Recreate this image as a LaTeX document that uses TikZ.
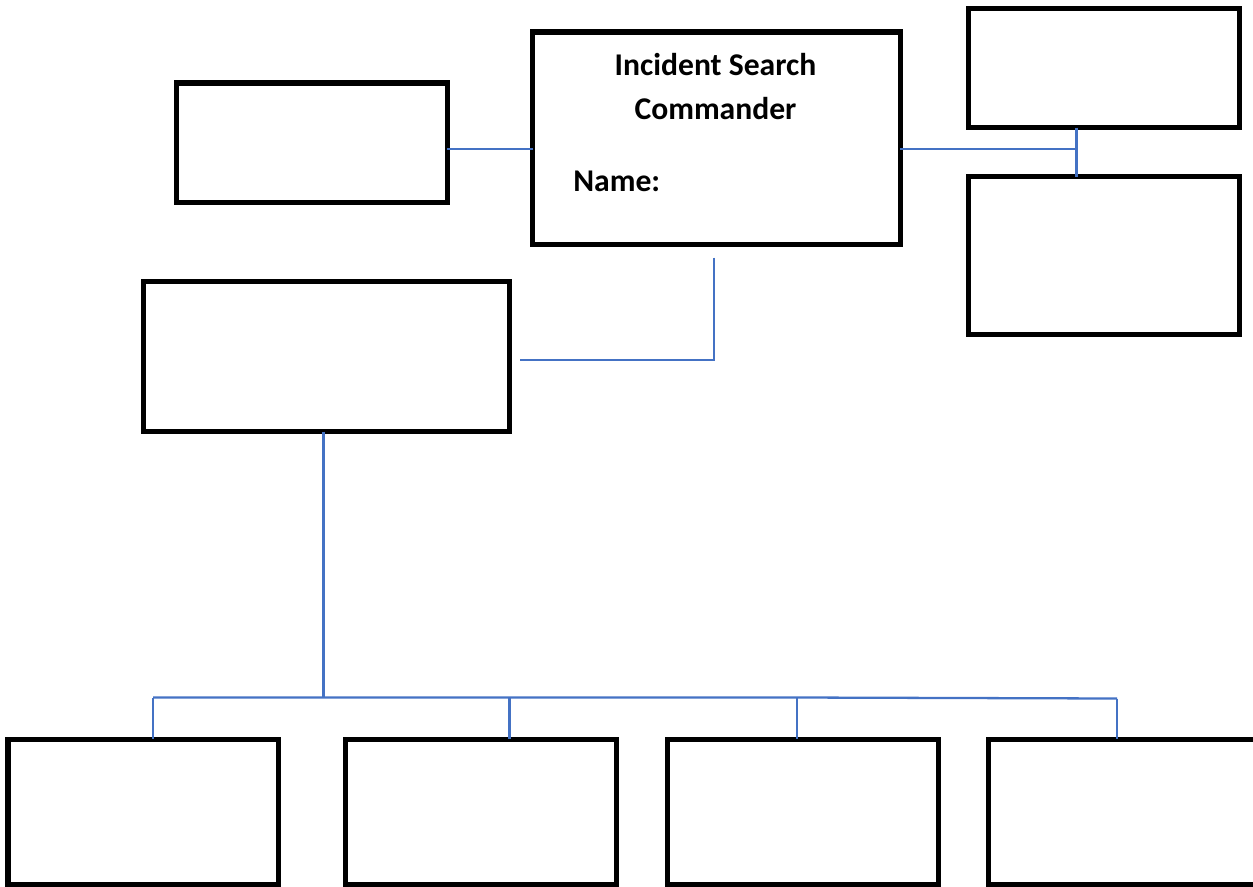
\documentclass[tikz,border=0pt]{standalone}
\usepackage{fontspec}
\setmainfont{Carlito}
\definecolor{linkblue}{HTML}{4472C4}
\begin{document}
\begin{tikzpicture}[
  box/.style={draw, rectangle, line width=2.85pt, outer sep=0pt, inner sep=0pt},
  link/.style={draw=linkblue, line width=1.3pt},
  label/.style={font=\fontsize{18}{22}\selectfont\bfseries, inner sep=0pt}]
\useasboundingbox (0,0) rectangle (25.06,-17.72);

% Commander box
\node[box, minimum width=7.35cm, minimum height=4.24cm] (isc) at (14.325,-2.76) {};
\node[label, anchor=base] (isct1) at (14.31,-1.5) {Incident Search};
\node[label, anchor=base] (isct2) at (14.31,-2.386) {Commander};
\node[label, anchor=base west] (iscname) at (11.46,-3.82) {Name:};

% Side boxes
\node[box, minimum width=5.41cm, minimum height=2.38cm] (lbox) at (6.235,-2.85) {};
\node[box, minimum width=5.41cm, minimum height=2.38cm] (trbox) at (22.075,-1.36) {};
\node[box, minimum width=5.41cm, minimum height=3.15cm] (rbox) at (22.075,-5.105) {};

% Section box
\node[box, minimum width=7.31cm, minimum height=3cm] (bbox) at (6.525,-7.13) {};

% Bottom boxes
\node[box, minimum width=5.41cm, minimum height=2.9cm] (b1) at (2.865,-16.23) {};
\node[box, minimum width=5.42cm, minimum height=2.9cm] (b2) at (9.61,-16.23) {};
\node[box, minimum width=5.42cm, minimum height=2.9cm] (b3) at (16.05,-16.23) {};
\node[box, minimum width=5.41cm, minimum height=2.9cm] (b4) at (22.48,-16.23) {};

% Connectors at the top
\coordinate (j) at (21.53,-2.985);
\draw[link] (lbox.east |- j) -- (isc.west |- j);
\draw[link] (isc.east |- j) -- (j);
\draw[link] (trbox.south -| j) -- (rbox.north -| j);

\coordinate (c1) at (14.28,-5.15);
\coordinate (c2) at (10.39,-7.2);
\draw[link] (c1) -- (c1 |- c2) -- (c2);

% Bus to the bottom row
\coordinate (dn) at (6.47,-13.95);
\coordinate (d1) at (3.06,-13.95);
\coordinate (d2) at (10.19,-13.95);
\coordinate (d3) at (15.94,-13.95);
\coordinate (d4) at (22.34,-13.97);
\draw[link] (dn |- bbox.south) -- (dn);
\draw[link] (d1) -- (d3) -- (d4);
\foreach \i in {1,...,4}
  \draw[link] (d\i) -- (d\i |- b\i.north);
\end{tikzpicture}
\end{document}
